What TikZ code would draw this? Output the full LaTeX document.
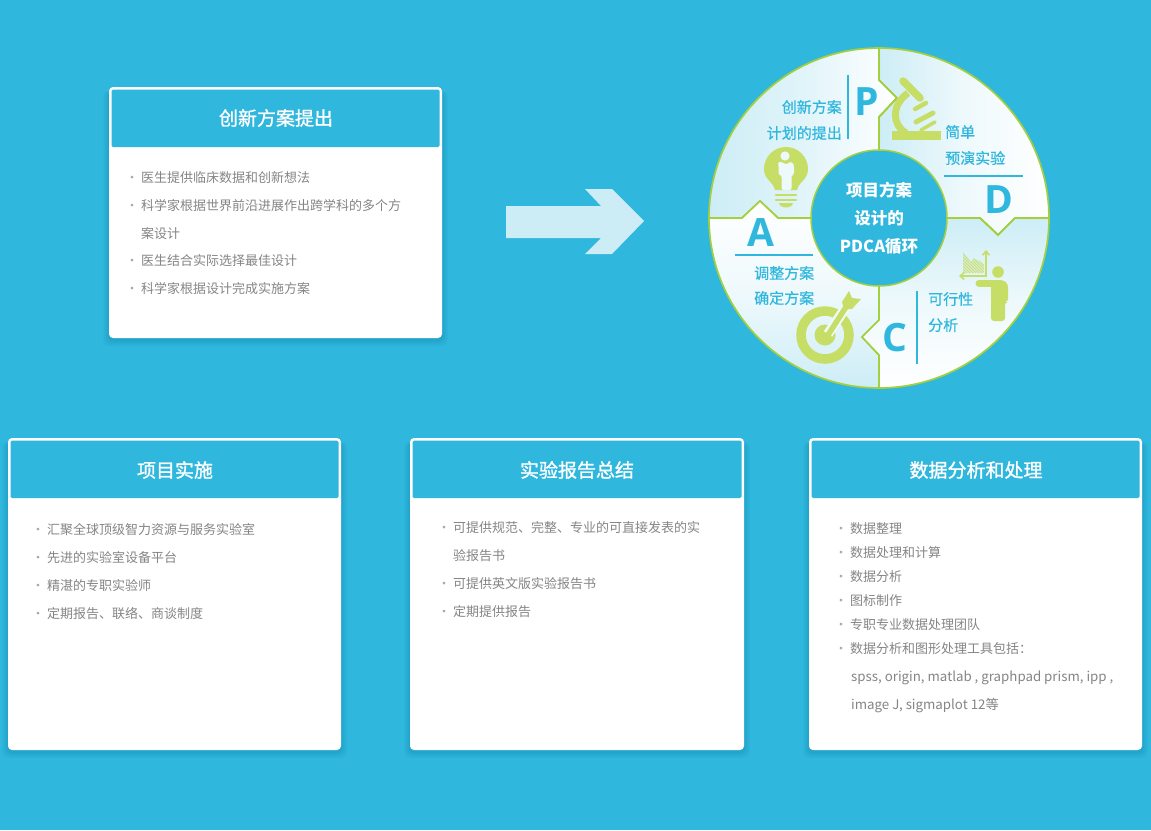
\documentclass[tikz,border=0pt]{standalone}
\usepackage{fontspec}
\setmainfont{Noto Sans CJK SC}
\newfontfamily\thickfont[FakeBold=1.2]{Noto Sans CJK SC}
\newfontfamily\ringfont[FakeBold=0.6]{Noto Sans CJK SC}
\newfontfamily\letterfont{Open Sans}
\usepackage{tikz}
\usetikzlibrary{arrows.meta,patterns}
\definecolor{bgblue}{HTML}{2FB7DD}
\definecolor{paleblue}{HTML}{CDEDF6}
\definecolor{fadeblue}{HTML}{EEF9FC}
\definecolor{ringgreen}{HTML}{A4CF3F}
\definecolor{icongreen}{HTML}{C6DD66}
\definecolor{itemgray}{HTML}{858585}
\definecolor{shadowblue}{HTML}{0B6F94}
\newcommand{\itemdot}{\makebox[12pt][l]{\hspace{-3.5pt}\textcolor{itemgray!70}{·}}}
\tikzset{
    cardbox/.style={fill=white, rounded corners=4pt},
    cardhead/.style={fill=bgblue, rounded corners=1.5pt},
    cardtitle/.style={text=white, inner sep=0pt, font=\thickfont\fontsize{19}{19}\selectfont},
    itemtext/.style={itemgray, anchor=west, inner sep=0pt, text height=11pt, text depth=0pt, font=\fontsize{13}{13}\selectfont},
    ringtext/.style={bgblue, inner sep=0pt, text height=12.5pt, text depth=1pt, font=\ringfont\fontsize{15}{15}\selectfont},
    bigletter/.style={bgblue, inner sep=0pt, font=\letterfont\bfseries\fontsize{39}{39}\selectfont},
    ringpart/.style={draw=ringgreen, line width=1.7pt, line join=miter},
    ringrule/.style={draw=bgblue, line width=1.4pt},
    hubcircle/.style={circle, draw=ringgreen, line width=1.5pt, fill=bgblue, text=white, minimum size=136pt, inner sep=0pt, align=center, font=\bfseries\fontsize{16.5}{28}\selectfont},
    iconline/.style={draw=icongreen, line cap=round},
}
\begin{document}
\begin{tikzpicture}[x=1pt, y=-1pt]
    \fill[bgblue] (0, 0) rectangle (1151, 830);

    \foreach \xa/\ya/\xb/\yb in {109/87/442/338, 8/438/341/750, 410/438/744/750, 809/438/1142/750} {
        \foreach \spread in {1,...,6} {
            \fill[shadowblue, opacity=0.04, rounded corners=5pt] (\xa-\spread, \ya+4) rectangle (\xb+\spread, \yb+2+\spread);
        }
        \fill[cardbox] (\xa, \ya) rectangle (\xb, \yb);
        \fill[cardhead] (\xa+2.5, \ya+2.5) rectangle (\xb-2.5, \ya+60);
    }

    \fill[paleblue] (506, 206) -- ++ (95, 0) -- ++ (-16, -17) -- ++ (27, 0) -- ++ (32, 32) -- ++ (-32, 33) -- ++ (-27, 0) -- ++ (16, -16) -- ++ (-95, 0) -- cycle;

    \node[cardtitle] (titleplan) at (276, 118) {创新方案提出};
    \node[cardtitle] (titlework) at (175, 470) {项目实施};
    \node[cardtitle] (titlereport) at (577, 470) {实验报告总结};
    \node[cardtitle] (titledata) at (976, 470) {数据分析和处理};

    \node[itemtext] (plana) at (129, 177) {\itemdot 医生提供临床数据和创新想法};
    \node[itemtext] (planb) at (129, 205) {\itemdot 科学家根据世界前沿进展作出跨学科的多个方};
    \node[itemtext] (planc) at (141, 233) {案设计};
    \node[itemtext] (pland) at (129, 260) {\itemdot 医生结合实际选择最佳设计};
    \node[itemtext] (plane) at (129, 288) {\itemdot 科学家根据设计完成实施方案};

    \node[itemtext] (worka) at (35, 529) {\itemdot 汇聚全球顶级智力资源与服务实验室};
    \node[itemtext] (workb) at (35, 557) {\itemdot 先进的实验室设备平台};
    \node[itemtext] (workc) at (35, 585) {\itemdot 精湛的专职实验师};
    \node[itemtext] (workd) at (35, 613) {\itemdot 定期报告、联络、商谈制度};

    \node[itemtext] (reporta) at (441, 527) {\itemdot 可提供规范、完整、专业的可直接发表的实};
    \node[itemtext] (reportb) at (453, 555) {验报告书};
    \node[itemtext] (reportc) at (441, 583) {\itemdot 可提供英文版实验报告书};
    \node[itemtext] (reportd) at (441, 611) {\itemdot 定期提供报告};

    \node[itemtext] (dataa) at (838, 528) {\itemdot 数据整理};
    \node[itemtext] (datab) at (838, 552) {\itemdot 数据处理和计算};
    \node[itemtext] (datac) at (838, 576) {\itemdot 数据分析};
    \node[itemtext] (datad) at (838, 600) {\itemdot 图标制作};
    \node[itemtext] (datae) at (838, 624) {\itemdot 专职专业数据处理团队};
    \node[itemtext] (dataf) at (838, 648) {\itemdot 数据分析和图形处理工具包括：};
    \node[itemtext] (datag) at (851, 676) {\fontsize{13.3}{13.3}\selectfont spss, origin, matlab , graphpad prism, ipp ,};
    \node[itemtext] (datah) at (851, 704) {\fontsize{13.3}{13.3}\selectfont image J, sigmaplot 12等};

    \path[ringpart, left color=paleblue, right color=white, middle color=fadeblue!60!paleblue] (879, 218) -- (879, 117) -- ++ (18, -19) -- ++ (-18, -18) -- (879, 48) arc[start angle=90, end angle=180, radius=170pt] -- (742, 218) -- ++ (18, -17) -- ++ (18, 17) -- cycle;
    \path[ringpart, left color=paleblue, right color=white, middle color=fadeblue] (879, 218) -- (879, 117) -- ++ (18, -19) -- ++ (-18, -18) -- (879, 48) arc[start angle=90, end angle=0, radius=170pt] -- (1015, 218) -- ++ (-17, 17) -- ++ (-18, -17) -- cycle;
    \path[ringpart, top color=white, bottom color=paleblue, middle color=fadeblue] (879, 218) -- (778, 218) -- ++ (-18, -17) -- ++ (-18, 17) -- (709, 218) arc[start angle=180, end angle=270, radius=170pt] -- (879, 355) -- ++ (-17, -18) -- ++ (17, -17) -- cycle;
    \path[ringpart, top color=paleblue, bottom color=white, middle color=fadeblue] (879, 218) -- (980, 218) -- ++ (18, 17) -- ++ (17, -17) -- (1049, 218) arc[start angle=0, end angle=-90, radius=170pt] -- (879, 355) -- ++ (-17, -18) -- ++ (17, -17) -- cycle;
    \draw[ringpart] (879, 117) -- ++ (18, -19) -- ++ (-18, -18) -- (879, 48);
    \draw[ringpart] (1015, 218) -- ++ (-17, 17) -- ++ (-18, -17) -- (879, 218);

    \node[hubcircle] (hub) at (879, 218) {项目方案\\设计的\\PDCA循环};

    \node[bigletter] (letterp) at (867, 102) {P};
    \node[bigletter] (letterd) at (999, 200) {D};
    \node[bigletter] (lettera) at (761, 233) {A};
    \node[bigletter] (letterc) at (895, 338) {C};

    \draw[ringrule] (848, 75) -- ++ (0, 64);
    \draw[ringrule] (944, 176) -- ++ (79, 0);
    \draw[ringrule] (735, 255) -- ++ (78, 0);
    \draw[ringrule] (917, 291) -- ++ (0, 73);

    \node[ringtext, anchor=east] (textpa) at (842, 107) {创新方案};
    \node[ringtext, anchor=east] (textpb) at (842, 133) {计划的提出};
    \node[ringtext, anchor=west] (textda) at (945, 132) {简单};
    \node[ringtext, anchor=west] (textdb) at (945, 158) {预演实验};
    \node[ringtext, anchor=west] (textaa) at (754, 273) {调整方案};
    \node[ringtext, anchor=west] (textab) at (754, 298) {确定方案};
    \node[ringtext, anchor=west] (textca) at (928, 299) {可行性};
    \node[ringtext, anchor=west] (textcb) at (928, 325) {分析};

    \fill[icongreen] (892, 131) -- ++ (49, 0) -- ++ (0, 9) -- ++ (-49, 0) -- cycle;
    \draw[iconline, line width=7.5pt] (903, 81) -- (920, 98);
    \draw[iconline, line width=4.5pt] (915, 109) -- (926, 103);
    \draw[iconline, line cap=butt, line width=7pt] (908, 93) .. controls (891, 105) and (892, 125) .. (906, 133);
    \draw[iconline, line width=5pt] (916, 122) -- (933, 113);
    \draw[iconline, line width=3.5pt] (921, 130) -- (935, 122);

    \fill[icongreen] (775, 190) .. controls (773, 181) and (764, 180) .. (764, 169) arc[start angle=180, end angle=0, radius=22pt] .. controls (808, 180) and (799, 181) .. (797, 190) -- cycle;
    \draw[iconline, line width=2.8pt] (776, 195) -- ++ (20, 0);
    \draw[iconline, line width=2.8pt] (776, 200) -- ++ (20, 0);
    \fill[icongreen] (779, 203) -- ++ (14, 0) .. controls (792, 209) and (780, 209) .. (779, 203) -- cycle;
    \fill[fadeblue] (785, 156) circle[radius=4.6pt];
    \fill[fadeblue, rounded corners=2pt] (778, 162) -- ++ (5, 0) -- ++ (3, 3) -- ++ (3, -3) -- ++ (3.5, 0) -- ++ (1.5, 3) -- ++ (0, 10) -- ++ (-2.5, 0) -- ++ (0, 15) -- ++ (-10, 0) -- ++ (0, -15) -- ++ (-3, 0) -- ++ (0, -10) -- cycle;

    \draw[icongreen, line width=9.5pt] (825, 335) circle[radius=24pt];
    \fill[icongreen] (825, 335) circle[radius=10.5pt];
    \draw[fadeblue, line width=10pt] (828, 334) -- (852, 298);
    \draw[icongreen, line width=5.5pt] (828, 335) -- (846, 307);
    \fill[icongreen] (842, 302) -- (849, 291) -- (852, 298) -- (861, 299) -- (852, 309) -- (844, 309) -- cycle;

    \fill[pattern=north west lines, pattern color=icongreen, opacity=0.9] (963, 252) -- (971, 262) -- (974, 258) -- (984, 264) -- (984, 273) -- (963, 273) -- cycle;
    \fill[icongreen, opacity=0.35] (963, 252) -- (971, 262) -- (974, 258) -- (984, 264) -- (984, 273) -- (963, 273) -- cycle;
    \draw[icongreen, line width=1.6pt, -{Straight Barb[length=4pt, width=7pt]}] (986, 277) -- (986, 250);
    \draw[icongreen, line width=1.6pt, -{Straight Barb[length=4pt, width=7pt]}] (987, 276) -- (959, 276);
    \fill[icongreen] (998, 272) circle[radius=5.8pt];
    \draw[iconline, line width=7pt] (979, 283) -- (996, 283);
    \fill[icongreen, rounded corners=3pt] (991, 280) -- (1003, 280) -- (1008, 284) -- (1008, 302) -- (1005, 302) -- (1005, 321) -- (991, 321) -- cycle;
\end{tikzpicture}
\end{document}
